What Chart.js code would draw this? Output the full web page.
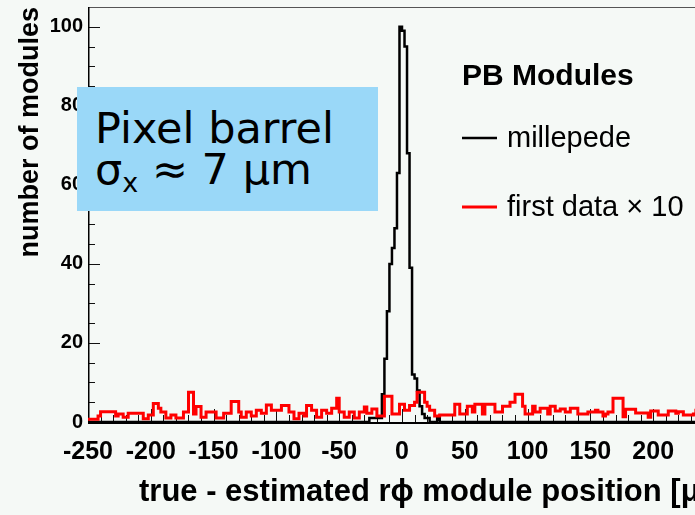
<!DOCTYPE html>
<html>
<head>
<meta charset="utf-8">
<script src="https://cdn.jsdelivr.net/npm/chart.js@4.4.1/dist/chart.umd.min.js"></script>
<style>
  html, body { margin: 0; padding: 0; background: #f5f9f6; overflow: hidden; width: 695px; height: 515px; }
  #wrap { position: relative; width: 760px; height: 515px; }
  #chart { position: absolute; left: 0; top: 0; }
  #note {
    position: absolute; left: 77px; top: 87px; width: 301px; height: 124px;
    background: #9ad8f8; box-sizing: border-box; padding: 21px 0 0 18px;
    font-family: "DejaVu Sans", sans-serif; font-size: 43px; line-height: 41px;
    color: #000; white-space: nowrap;
  }
  #note sub { font-size: 27px; line-height: 0; vertical-align: -8px; }
</style>
</head>
<body>
<div id="wrap">
  <canvas id="chart" width="760" height="515"></canvas>
  <div id="note"><div>Pixel barrel</div><div>σ<sub>x</sub> ≈ 7 μm</div></div>
</div>
<script>
// Histogram binning: 250 bins of 2 µm from -250 to +250
const binLow = -250;
const binWidth = 2;

// Axis ranges and labelled ticks
const xRange = [-250, 250];
const yRange = [0, 105];
const xTicks = [-250, -200, -150, -100, -50, 0, 50, 100, 150, 200, 250];
const yTicks = [0, 20, 40, 60, 80, 100];

// Millepede residuals (entries per bin)
const millepede = [
  0,0,0,0,0,0,0,0,0,0,0,0,0,0,0,0,0,0,0,0,0,0,0,0,0,
  0,0,0,0,0,0,0,0,0,0,0,0,0,0,0,0,0,0,0,0,0,0,0,0,0,
  0,0,0,0,0,0,0,0,0,0,0,0,0,0,0,0,0,0,0,0,0,0,0,0,0,
  0,0,0,0,0,0,0,0,0,0,0,0,0,0,0,0,0,0,0,0,0,0,0,0,0,
  0,0,0,0,0,0,0,0,0,0,0,0,0,1,1,1,1,1,7,16,28,40,44,49,63,
  100,99,95,68,39,12,11,8,4,2,1,1,0,0,0,1,0,0,0,0,0,0,0,0,0,
  0,0,0,0,0,0,0,0,0,0,0,0,0,0,0,0,0,0,0,0,0,0,0,0,0,
  0,0,0,0,0,0,0,0,0,0,0,0,0,0,0,0,0,0,0,0,0,0,0,0,0,
  0,0,0,0,0,0,0,0,0,0,0,0,0,0,0,0,0,0,0,0,0,0,0,0,0,
  0,0,0,0,0,0,0,0,0,0,0,0,0,0,0,0,0,0,0,0,0,0,0,0,0
];

// First-data residuals, scaled by 10
const firstData = [
  0.7,0.7,0.7,0.7,0.7,1.5,2.6,2.6,2.6,2.6,
  2.6,2.6,1.5,2,2,1.2,1.2,2.2,2.2,2.2,
  2.2,2.2,2.2,0.8,0.8,1.8,1.8,4.7,4.7,3.5,
  2.5,2.5,1,1,1.8,1.8,1,1,1,2.5,
  2.5,7.5,7.5,2,3.9,3.9,1.2,1.2,2.5,2.5,
  2.5,2.5,1,1,1,2.2,2.2,2.2,5.2,5.2,
  5.2,2.5,1.2,1.2,2.5,2.5,1.5,1.5,3,3,
  2.2,2.2,4.3,4.3,3,3,3,3,4.2,4.2,
  4.2,2.5,2.5,0.8,0.8,2.2,2.2,1.5,4.2,4.2,
  3,3,1.2,1.2,3,3,2.2,2.2,3.5,3.5,
  6,2.5,2.5,1.2,1.2,2.5,2.5,1,1,2.5,
  2.5,3.8,2.2,2.2,3.3,3.3,1.5,1.5,1.5,6.5,
  6.5,6.5,2,2,2,4.5,4.5,3,3,4.2,
  4.2,5,7.5,7.5,7.5,5,4,3,3,1.5,
  1.5,1.8,1.8,1.8,1.8,1.8,1.8,4.5,4.5,2,
  2,2,4,4,2.5,4.5,4.5,4.5,2,4.5,
  4.5,4.5,4.5,2.5,2.5,2.5,4,4,4,5,
  5,7,7,7,4,2,2,2,4,2.5,
  2.5,3.5,3.5,3.5,2,4,4,2.8,2.8,3.3,
  3.3,2.5,2.5,3.5,3.5,3.5,2,2,2,2,
  2.5,2.5,2.5,3,2.5,2.5,1.5,2,2.5,2.5,
  6,6,6,6,1.3,3.2,3.2,3.2,3.2,2.3,
  2.3,2.3,2.3,2.3,1.2,2.8,2.8,2.8,1.8,1.8,
  1.8,1.8,2.8,2.8,2.8,2.2,2.6,2.6,1.8,1.8,
  1.8,1.8,2,3,1.5,2.5,2,3,2,1.5
];

const legendTitle = 'PB Modules';
const xTitle = 'true - estimated r\u03D5 module position [\u03BCm]';
const yTitle = 'number of modules';

// Bin contents -> step outline points (left edge of each bin, plus the closing edge)
function histPoints(values) {
  const pts = values.map((v, i) => ({ x: binLow + i * binWidth, y: v }));
  pts.push({ x: binLow + values.length * binWidth, y: values[values.length - 1] });
  return pts;
}

// Frame and inward-pointing tick marks, ROOT style
const frameTicks = {
  id: 'frameTicks',
  beforeDatasetsDraw(chart) {
    const { ctx, chartArea: a, scales: { x, y } } = chart;
    ctx.save();
    ctx.strokeStyle = '#111';
    ctx.lineWidth = 1;
    ctx.beginPath();
    for (let v = xRange[0]; v <= xRange[1]; v += 10) {
      const px = Math.round(x.getPixelForValue(v)) + 0.5;
      const len = v % 50 === 0 ? 13 : 7;
      ctx.moveTo(px, a.bottom); ctx.lineTo(px, a.bottom - len);
    }
    for (let v = yRange[0]; v <= 100; v += 5) {
      const py = Math.round(y.getPixelForValue(v)) + 0.5;
      const len = v % 20 === 0 ? 12 : 7;
      ctx.moveTo(a.left, py); ctx.lineTo(a.left + len, py);
    }
    ctx.stroke();
    // top and right frame
    ctx.strokeStyle = '#555';
    ctx.beginPath();
    ctx.moveTo(a.left, a.top + 0.5); ctx.lineTo(a.right, a.top + 0.5);
    ctx.moveTo(a.right - 0.5, a.top); ctx.lineTo(a.right - 0.5, a.bottom);
    ctx.stroke();
    // axes
    ctx.strokeStyle = '#000';
    ctx.lineWidth = 1.5;
    ctx.beginPath();
    ctx.moveTo(a.left + 0.75, a.top); ctx.lineTo(a.left + 0.75, a.bottom);
    ctx.stroke();
    ctx.lineWidth = 2;
    ctx.beginPath();
    ctx.moveTo(a.left, a.bottom + 1); ctx.lineTo(a.right, a.bottom + 1);
    ctx.stroke();
    ctx.restore();
  }
};

// Legend box with title and one line sample per dataset
const pbLegend = {
  id: 'pbLegend',
  afterDraw(chart) {
    const ctx = chart.ctx;
    ctx.save();
    ctx.fillStyle = '#000';
    ctx.textBaseline = 'alphabetic';
    ctx.font = 'bold 30px "Liberation Sans"';
    ctx.fillText(legendTitle, 462, 85);
    const rows = [138, 207];
    chart.data.datasets.forEach((ds, i) => {
      const yy = rows[i];
      ctx.strokeStyle = ds.borderColor;
      ctx.lineWidth = ds.borderWidth;
      ctx.beginPath(); ctx.moveTo(462, yy); ctx.lineTo(497, yy); ctx.stroke();
      ctx.font = '29px "Liberation Sans"';
      ctx.textBaseline = 'middle';
      ctx.fillText(ds.label, 507, yy + 1);
    });
    ctx.restore();
  }
};

// X axis title, anchored under the left half of the axis
const xAxisTitle = {
  id: 'xAxisTitle',
  afterDraw(chart) {
    const ctx = chart.ctx;
    ctx.save();
    ctx.fillStyle = '#000';
    ctx.font = 'bold 31px "Liberation Sans"';
    ctx.textBaseline = 'middle';
    ctx.fillText(xTitle, 139, 492);
    ctx.restore();
  }
};

Chart.defaults.font.family = '"Liberation Sans", Arial, sans-serif';

new Chart(document.getElementById('chart'), {
  type: 'line',
  data: {
    datasets: [
      {
        label: 'millepede',
        data: histPoints(millepede),
        borderColor: '#000000',
        borderWidth: 2.5,
        stepped: 'after',
        pointRadius: 0,
        fill: false,
        borderJoinStyle: 'miter',
        order: 2
      },
      {
        label: 'first data \u00D7 10',
        data: histPoints(firstData),
        borderColor: '#ff0000',
        borderWidth: 3,
        stepped: 'after',
        pointRadius: 0,
        fill: false,
        borderJoinStyle: 'miter',
        order: 1
      }
    ]
  },
  options: {
    responsive: false,
    animation: false,
    layout: { padding: { top: 7, right: 44, left: 0, bottom: 0 } },
    plugins: { legend: { display: false }, tooltip: { enabled: false } },
    scales: {
      x: {
        type: 'linear',
        min: xRange[0],
        max: xRange[1],
        afterBuildTicks: s => { s.ticks = xTicks.map(v => ({ value: v })); },
        afterFit: s => { s.height = 93; s.paddingLeft = 0; s.paddingRight = 0; },
        grid: { display: false, drawTicks: false },
        border: { display: false },
        ticks: {
          autoSkip: false, maxRotation: 0, padding: 15, color: '#000',
          font: { size: 25, weight: 'bold' }
        }
      },
      y: {
        type: 'linear',
        min: yRange[0],
        max: yRange[1],
        afterBuildTicks: s => { s.ticks = yTicks.map(v => ({ value: v })); },
        afterFit: s => { s.width = 88; s.paddingTop = 0; s.paddingBottom = 0; },
        grid: { display: false, drawTicks: false },
        border: { display: false },
        ticks: {
          autoSkip: false, padding: 5, color: '#000',
          font: { size: 20, weight: 'bold' }
        },
        title: {
          display: true, text: yTitle, align: 'end', color: '#000',
          font: { size: 27, weight: 'bold' },
          padding: { top: 14, bottom: 0 }
        }
      }
    }
  },
  plugins: [frameTicks, pbLegend, xAxisTitle]
});
</script>
</body>
</html>
